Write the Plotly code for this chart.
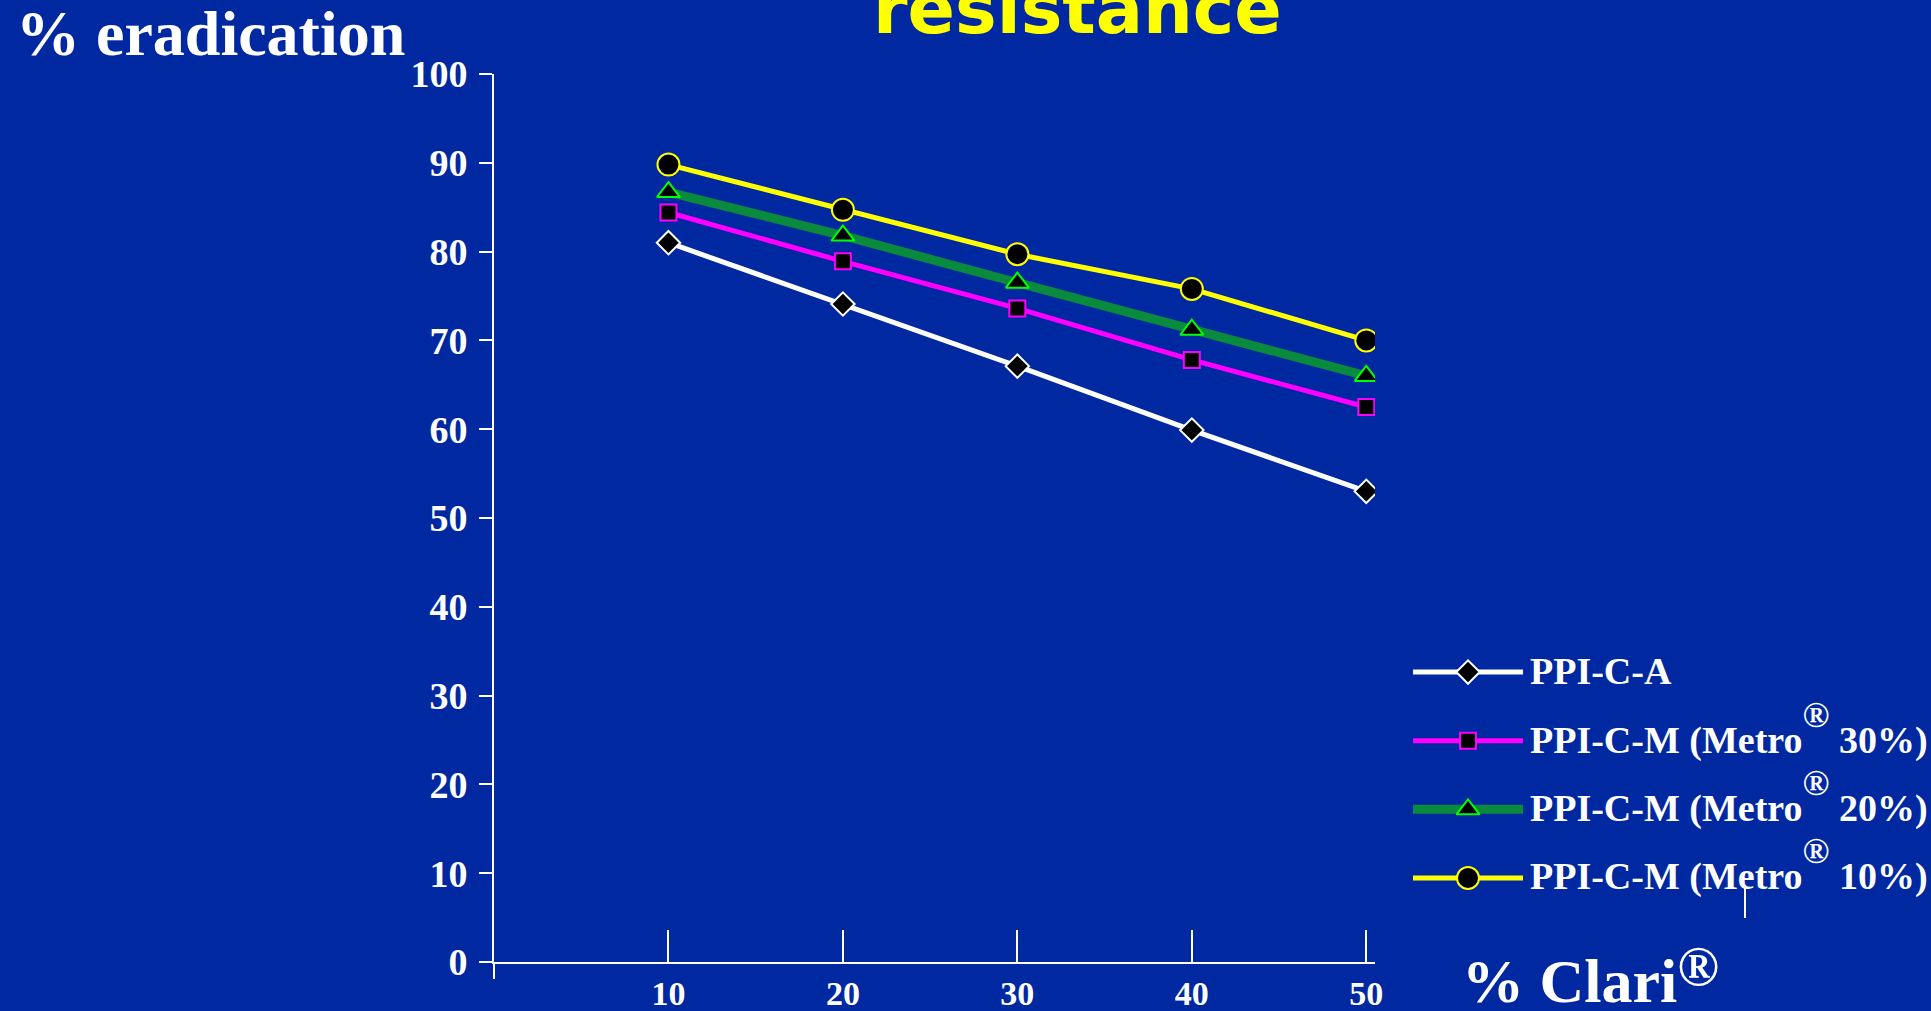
import plotly.graph_objects as go

# Eradication rate (%) versus clarithromycin resistance (%)
clari_resistance = [10, 20, 30, 40, 50]
ppi_c_a = [81.0, 74.1, 67.1, 59.9, 53.0]
ppi_c_m_metro30 = [84.4, 78.9, 73.6, 67.8, 62.5]
ppi_c_m_metro20 = [86.7, 81.8, 76.5, 71.2, 66.0]
ppi_c_m_metro10 = [89.8, 84.7, 79.7, 75.8, 70.0]

# raised registered mark: outer span sets the lift, inner span the glyph size
REG = '<span style="font-size:62px"><sup><span style="font-size:36px">®</span></sup></span>'
series_names = [
    "PPI-C-A",
    "PPI-C-M (Metro" + REG + " 30%)",
    "PPI-C-M (Metro" + REG + " 20%)",
    "PPI-C-M (Metro" + REG + " 10%)",
]
series_values = [ppi_c_a, ppi_c_m_metro30, ppi_c_m_metro20, ppi_c_m_metro10]
y_ticks = list(range(0, 101, 10))
x_ticks = clari_resistance

# Canvas size and pixel -> paper helpers
W, H = 1931, 1011
BG = "#0028A0"
SERIF = "Liberation Serif, Times New Roman, serif"


def px(x):
    return x / W


def py(y):
    return 1 - y / H


styles = [
    dict(color="#FFFFFF", width=5, symbol="diamond", size=18, edge="#FFFFFF"),
    dict(color="#FF00FF", width=5, symbol="square", size=16, edge="#FF00FF"),
    dict(color="#0A8A3C", width=9, symbol="triangle-up", size=20, edge="#00FF00"),
    dict(color="#FFFF00", width=5, symbol="circle", size=22, edge="#FFFF00"),
]

fig = go.Figure()

# Main series
for name, vals, st in zip(series_names, series_values, styles):
    fig.add_trace(go.Scatter(
        x=clari_resistance, y=vals, name=name, mode="lines+markers",
        line=dict(color=st["color"], width=st["width"]),
        marker=dict(symbol=st["symbol"], size=st["size"], color="black",
                    line=dict(color=st["edge"], width=2)),
        showlegend=False, xaxis="x", yaxis="y",
    ))

# Hand-built legend on its own small axes: one row per series
legend_rows = [1, 2, 3, 4]
for row, st in zip(legend_rows, styles):
    fig.add_trace(go.Scatter(
        x=[0, 1], y=[row, row], mode="lines",
        line=dict(color=st["color"], width=st["width"]),
        showlegend=False, hoverinfo="skip", xaxis="x2", yaxis="y2",
    ))
    fig.add_trace(go.Scatter(
        x=[0.5], y=[row], mode="markers",
        marker=dict(symbol=st["symbol"], size=st["size"], color="black",
                    line=dict(color=st["edge"], width=2)),
        showlegend=False, hoverinfo="skip", xaxis="x2", yaxis="y2",
    ))

row_px = [672, 742, 810, 878]
annotations = []
for name, rp in zip(series_names, row_px):
    annotations.append(dict(
        text="<b>" + name + "</b>", x=px(1528), y=py(rp + 22),
        xref="paper", yref="paper", xanchor="left", yanchor="bottom",
        showarrow=False, font=dict(family=SERIF, size=38, color="white"),
    ))

annotations += [
    dict(text="<b>% eradication</b>", x=px(14), y=py(33), xref="paper", yref="paper",
         xanchor="left", yanchor="middle", showarrow=False,
         font=dict(family=SERIF, size=64, color="white")),
    dict(text='<b>% Clari<span style="font-size:40px"><sup>'
              '<span style="font-size:56px">®</span></sup></span></b>',
         x=px(1460), y=py(1002 + 15), xref="paper", yref="paper",
         xanchor="left", yanchor="bottom", showarrow=False,
         font=dict(family=SERIF, size=62, color="white")),
    dict(text="<b>resistance</b>", x=px(1077), y=py(9), xref="paper", yref="paper",
         xanchor="center", yanchor="middle", showarrow=False,
         font=dict(family="DejaVu Sans, Verdana, sans-serif", size=70, color="#FFFF00")),
]

shapes = [
    # y axis continues a little below the x axis
    dict(type="line", xref="x domain", yref="y domain", x0=0, x1=0, y0=0, y1=-17 / 888,
         line=dict(color="white", width=2)),
    # small stray tick under the legend
    dict(type="line", xref="paper", yref="paper", x0=px(1745), x1=px(1745),
         y0=py(885), y1=py(918), line=dict(color="white", width=2)),
]

fig.update_layout(
    template="none",
    width=W, height=H,
    margin=dict(l=0, r=0, t=0, b=0, pad=0),
    paper_bgcolor=BG, plot_bgcolor=BG,
    showlegend=False,
    annotations=annotations,
    shapes=shapes,
    xaxis=dict(
        domain=[px(494), px(1375)], range=[0, 50.5], anchor="y", automargin=False,
        showgrid=False, zeroline=False,
        showline=True, linecolor="white", linewidth=2,
        ticks="inside", ticklen=32, tickwidth=2, tickcolor="white",
        tickvals=x_ticks, ticktext=[str(v) for v in x_ticks],
        tickfont=dict(family=SERIF, size=34, color="white", weight="bold"),
        ticklabelstandoff=0,
    ),
    yaxis=dict(
        domain=[py(962), py(74)], range=[0, 100], anchor="x", automargin=False,
        showgrid=False, zeroline=False,
        showline=True, linecolor="white", linewidth=2,
        ticks="outside", ticklen=13, tickwidth=2, tickcolor="white",
        tickvals=y_ticks, ticktext=[str(v) for v in y_ticks],
        tickfont=dict(family=SERIF, size=38, color="white", weight="bold"),
        ticklabelstandoff=4,
    ),
    xaxis2=dict(domain=[px(1413), px(1523)], range=[0, 1], anchor="y2",
                visible=False, automargin=False),
    yaxis2=dict(domain=[py(912.3), py(637.7)], range=[4.5, 0.5], anchor="x2",
                visible=False, automargin=False),
)

fig.write_html("out.html")
